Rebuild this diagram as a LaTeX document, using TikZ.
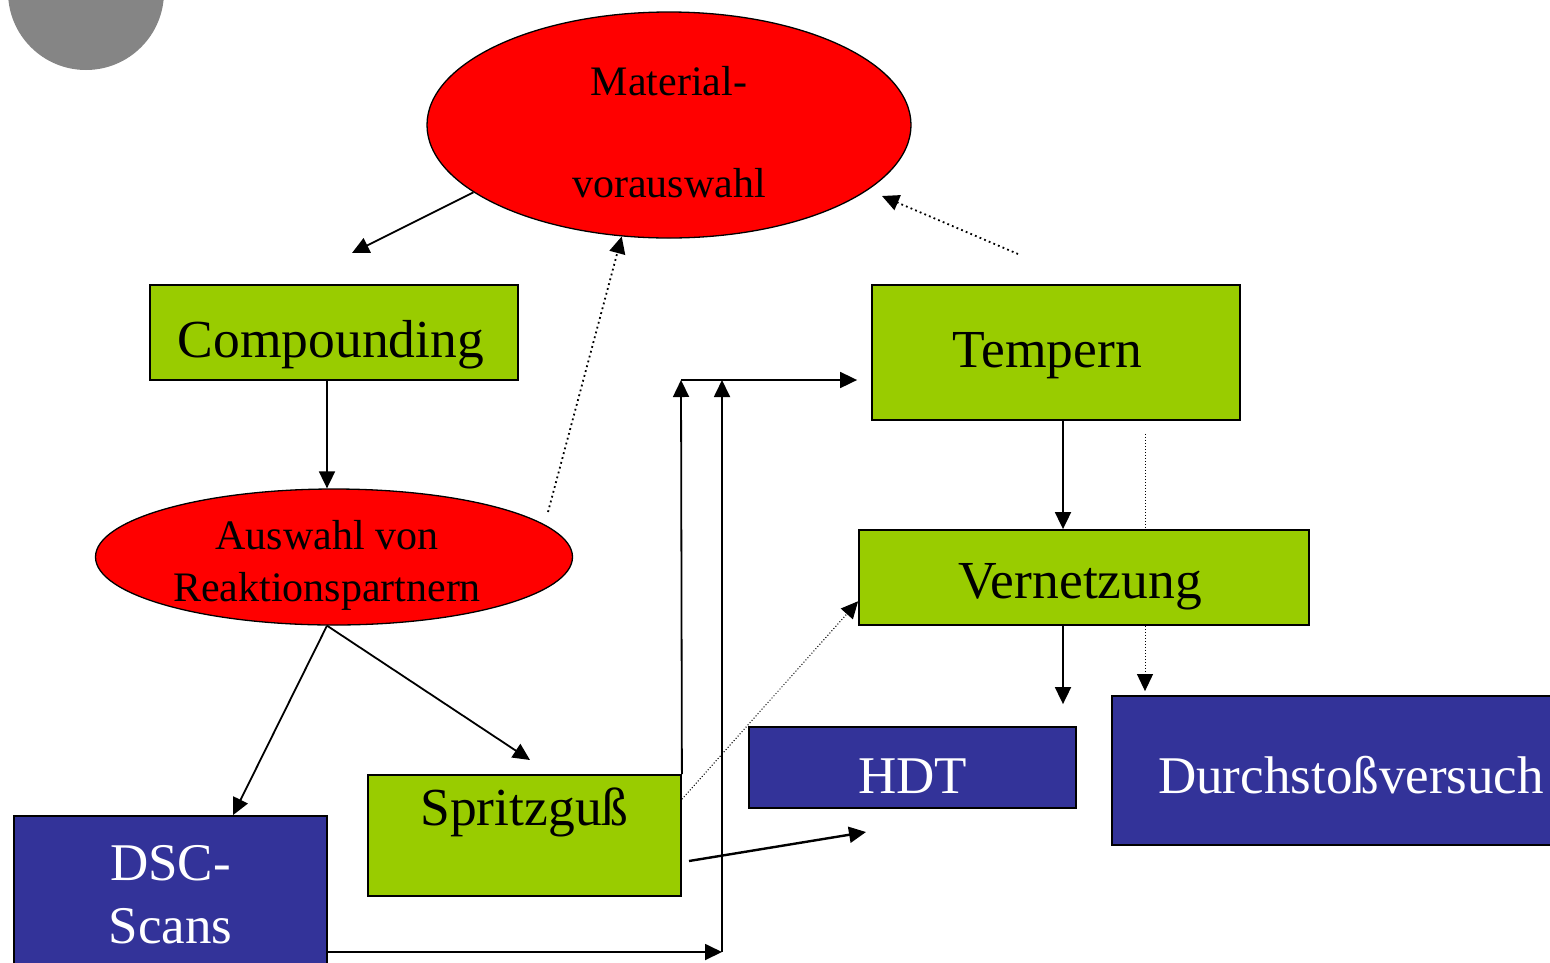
\documentclass[tikz,border=0pt]{standalone}
\usepackage{fontspec}
\setmainfont{Liberation Serif}
\usetikzlibrary{arrows.meta,shapes.geometric}
\definecolor{matred}{HTML}{FF0000}
\definecolor{procgreen}{HTML}{99CC00}
\definecolor{testblue}{HTML}{333399}
\definecolor{logogray}{HTML}{858585}
\tikzset{
  ovalbox/.style={ellipse,draw,line width=1.3pt,fill=matred,inner sep=0pt},
  ovaltext/.style={font=\fontsize{42}{#1}\selectfont,align=center},
  procbox/.style={rectangle,draw,line width=1.8pt,fill=procgreen,inner sep=0pt,
    font=\fontsize{53.5}{60}\selectfont,text height=36pt,text depth=0pt},
  testbox/.style={rectangle,draw,line width=1.8pt,fill=testblue,text=white,inner sep=0pt,
    font=\fontsize{53}{63}\selectfont},
  dots/.style={line width=1.8pt,dash pattern=on 1.8pt off 3.2pt},
  finedots/.style={line width=1pt,dash pattern=on 1pt off 2pt}
}
\begin{document}
\begin{tikzpicture}
           [x=1pt,y=-1pt,line width=1.8pt,>={Triangle[length=17pt,width=16pt]}]
           \useasboundingbox (0,0) rectangle (1550,962);
           \fill[logogray] (86,-8) circle (78);

           \node[ovalbox,minimum width=484pt,minimum height=226pt,
                 label={[ovaltext=102,yshift=-7pt]center:Material-\\vorauswahl}] (mat) at (669,125) {};
           \node[ovalbox,minimum width=477pt,minimum height=136pt,
                 label={[ovaltext=52,xshift=-7pt,yshift=-8pt]center:Auswahl von\\Reaktionspartnern}] (aus) at (334,557) {};

           \node[procbox,minimum width=368pt,minimum height=95pt,text height=49pt] (comp) at (334,332.5) {Compounding\hspace*{6pt}};
           \node[procbox,minimum width=368pt,minimum height=135pt,text depth=7pt,text height=36pt] (temp) at (1056,352.5) {Tempern\hspace*{18pt}};
           \node[procbox,minimum width=313pt,minimum height=121pt,
                 text depth=57pt] (spr) at (524.5,835.5) {Spritzguß};

           \node[testbox,minimum width=313pt,minimum height=158pt,align=center] (dsc) at (170.5,895) {DSC-\\Scans};
           \node[testbox,minimum width=327pt,minimum height=81pt,text height=51pt,text depth=0pt] (hdt) at (912.5,767.5) {HDT};
           \node[testbox,minimum width=488pt,minimum height=149pt,text height=45pt,text depth=0pt] (dur) at (1356,770.5) {Durchstoßversuch\hspace*{10pt}};

           \coordinate (c1) at (352,253);
           \coordinate (c2) at (548,512);
           \coordinate (c3) at (1018,254);
           \coordinate (c4) at (882,196);
           \coordinate (c5) at (233,0);
           \coordinate (c6) at (530,760);
           \coordinate (v0) at (327,0);
           \coordinate (j1) at (681,380);
           \coordinate (j2) at (722,380);
           \coordinate (j3) at (722,952);
           \coordinate (h1) at (689,861);
           \coordinate (h2) at (866,832);
           \coordinate (v1) at (1063,0);
           \coordinate (d1) at (1145,0);

           \draw[->,finedots,shorten <=13pt,shorten >=4pt] (temp.south -| d1) -- (dur.north -| d1);
           \node[procbox,minimum width=450pt,minimum height=95pt,text height=41pt] (vern) at (1084,577.5) {Vernetzung\hspace*{8pt}};

           \draw[->] (mat.199) -- (c1);
           \draw[->] (comp.south -| v0) -- (aus.north -| v0);
           \draw[->,dots] (c2) -- (mat.247);
           \draw[->,dots] (c3) -- (c4);

           \draw[->] (aus.south -| v0) -- (dsc.north -| c5);
           \draw[->] (aus.south -| v0) -- (c6);

           \draw[->] (spr.north east) -- (j1);
           \draw[->,shorten >=14pt] (j1) -- (j1 -| temp.west);
           \draw[->] (dsc.east |- j3) -- (j3);
           \draw[->] (j3) -- (j2);

           \draw[->,finedots] (spr.13) -- (vern.186);
           \draw[->,line width=2.4pt] (h1) -- (h2);

           \draw[->] (temp.south -| v1) -- (vern.north -| v1);
           \draw[->,shorten >=22pt] (vern.south -| v1) -- (hdt.north -| v1);
         \end{tikzpicture}
\end{document}
